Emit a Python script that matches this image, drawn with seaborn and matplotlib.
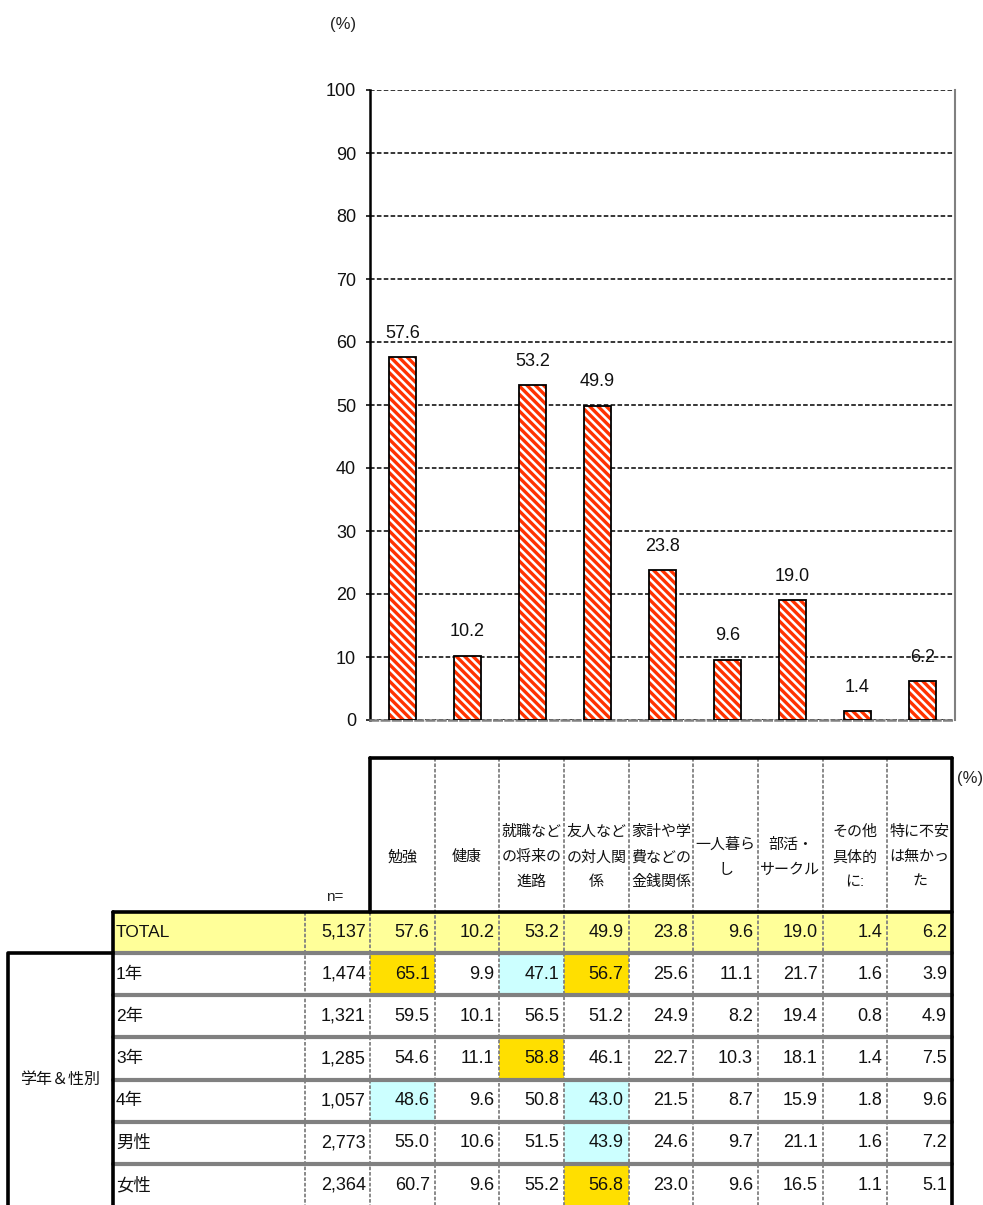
import numpy as np
import pandas as pd
import matplotlib
matplotlib.use('Agg')
import matplotlib.pyplot as plt
from matplotlib import font_manager
import seaborn as sns

# chart data
CATEGORIES = ['勉強', '健康', '就職などの将来の進路', '友人などの対人関係', '家計や学費などの金銭関係',
              '一人暮らし', '部活・サークル', 'その他具体的に:', '特に不安は無かった']
HEADERS = ['勉強', '健康', '就職など\nの将来の\n進路', '友人など\nの対人関\n係', '家計や学\n費などの\n金銭関係',
           '一人暮ら\nし', '部活・\nサークル', 'その他\n具体的\nに:', '特に不安\nは無かっ\nた']
TOTAL = [57.6, 10.2, 53.2, 49.9, 23.8, 9.6, 19.0, 1.4, 6.2]
TOTAL_N = '5,137'

ROW_LABELS = ['1年', '2年', '3年', '4年', '男性', '女性']
ROW_N = ['1,474', '1,321', '1,285', '1,057', '2,773', '2,364']
ROW_VALUES = [
    [65.1, 9.9, 47.1, 56.7, 25.6, 11.1, 21.7, 1.6, 3.9],
    [59.5, 10.1, 56.5, 51.2, 24.9, 8.2, 19.4, 0.8, 4.9],
    [54.6, 11.1, 58.8, 46.1, 22.7, 10.3, 18.1, 1.4, 7.5],
    [48.6, 9.6, 50.8, 43.0, 21.5, 8.7, 15.9, 1.8, 9.6],
    [55.0, 10.6, 51.5, 43.9, 24.6, 9.7, 21.1, 1.6, 7.2],
    [60.7, 9.6, 55.2, 56.8, 23.0, 9.6, 16.5, 1.1, 5.1],
]
# '+' = well above total, '-' = well below total
HIGHLIGHT = [
    ['+', '', '-', '+', '', '', '', '', ''],
    ['', '', '', '', '', '', '', '', ''],
    ['', '', '+', '', '', '', '', '', ''],
    ['-', '', '', '-', '', '', '', '', ''],
    ['', '', '', '-', '', '', '', '', ''],
    ['', '', '', '+', '', '', '', '', ''],
]
GROUP_LABEL = '学年＆性別'

HI_COLOR = '#FFDF00'
LO_COLOR = '#CCFFFF'
TOTAL_COLOR = '#FFFF99'
BAR_RED = '#FF3300'
GRID_GRAY = '#808080'

sns.set_theme(style='white')
names = {f.name for f in font_manager.fontManager.ttflist}
latin = 'Liberation Sans Narrow' if 'Liberation Sans Narrow' in names else 'Liberation Sans'
plt.rcParams['font.family'] = [latin, 'Noto Sans CJK JP', 'DejaVu Sans']
plt.rcParams['hatch.linewidth'] = 2.4

W, H = 983, 1205
fig = plt.figure(figsize=(W / 100, H / 100), dpi=100)

# ---- bar chart ----
ax = fig.add_axes([370 / W, 1 - 720 / H, 585 / W, 630 / H])
df = pd.DataFrame({'cat': CATEGORIES, 'val': TOTAL})
sns.barplot(data=df, x='cat', y='val', order=CATEGORIES, color='white', edgecolor=BAR_RED,
            hatch='\\\\\\\\', linewidth=0, width=0.42, ax=ax, zorder=2)
sns.barplot(data=df, x='cat', y='val', order=CATEGORIES, color='black', fill=False,
            linewidth=1.3, width=0.42, ax=ax, zorder=3)
ax.bar_label(ax.containers[0], labels=[f'{v:.1f}' for v in TOTAL], padding=11,
             fontsize=13, color='#111111')

ax.set_ylim(0, 100)
ax.set_yticks(np.arange(0, 101, 10))
ax.yaxis.grid(True, linestyle=(0, (3, 1.5)), color='black', linewidth=1.1, zorder=0)
ax.set_axisbelow(True)
ax.set_xlabel('')
ax.set_ylabel('')
ax.tick_params(axis='x', bottom=False, labelbottom=False)
ax.tick_params(axis='y', left=True, length=3, width=1.2, pad=7, labelsize=13, colors='#111111')
ax.spines['top'].set_visible(False)
ax.spines['left'].set_color('black')
ax.spines['left'].set_linewidth(1.8)
ax.spines['right'].set_color(GRID_GRAY)
ax.spines['right'].set_linewidth(1.5)
ax.spines['bottom'].set_color(GRID_GRAY)
ax.spines['bottom'].set_linewidth(1.8)
ax.spines['bottom'].set_linestyle((0, (3, 1.5)))

# ---- table (drawn in pixel coordinates) ----
tb = fig.add_axes([0, 0, 1, 1], zorder=-1)
tb.set_xlim(0, W)
tb.set_ylim(H, 0)
tb.axis('off')

x_lab, x_n, x_data, x_end = 113, 305, 370, 952
col_w = (x_end - x_data) / len(CATEGORIES)
y_head, y_total, y_rows, row_h = 758, 912, 953, 42.2
col_x = [x_data + i * col_w for i in range(len(CATEGORIES) + 1)]

# fills
tb.add_patch(plt.Rectangle((x_lab, y_total), x_end - x_lab, y_rows - y_total,
                           facecolor=TOTAL_COLOR, edgecolor='none'))
for r, flags in enumerate(HIGHLIGHT):
    for c, flag in enumerate(flags):
        if flag:
            tb.add_patch(plt.Rectangle((col_x[c], y_rows + r * row_h), col_w, row_h,
                                       facecolor=HI_COLOR if flag == '+' else LO_COLOR,
                                       edgecolor='none'))

# grid lines
for x in col_x[1:-1]:
    tb.plot([x, x], [y_head, H], color=GRID_GRAY, lw=1.3, ls=(0, (2, 1)))
tb.plot([x_n, x_n], [y_total, H], color=GRID_GRAY, lw=1.3, ls=(0, (2, 1)))
tb.plot([x_data, x_data], [y_total, H], color=GRID_GRAY, lw=1.3, ls=(0, (2, 1)))
for r in range(0, len(ROW_LABELS)):
    y = y_rows + r * row_h
    tb.plot([x_lab, x_end], [y, y], color=GRID_GRAY, lw=3)
tb.plot([x_data, x_end], [y_head, y_head], color='black', lw=2.6)
tb.plot([x_data, x_data], [y_head, y_total], color='black', lw=2.6)
tb.plot([x_end, x_end], [y_head, H], color='black', lw=2.6)
tb.plot([x_lab, x_end], [y_total, y_total], color='black', lw=2.6)
tb.plot([x_lab, x_lab], [y_total, H], color='black', lw=2.6)
tb.plot([8, 8, x_lab], [H, y_rows, y_rows], color='black', lw=2.6)

# header text
for c, head in enumerate(HEADERS):
    tb.text(col_x[c] + col_w / 2, 857, head, ha='center', va='center', fontsize=10.8,
            linespacing=2.0, color='#111111')
tb.text(335, 897, 'n=', ha='center', va='center', fontsize=11, color='#222222')
tb.text(970, 778, '(%)', ha='center', va='center', fontsize=12, color='#222222')
fig.text(343 / W, 1 - 25 / H, '(%)', ha='center', va='center', fontsize=12, color='#222222')

# body text
def draw_row(y_top, label, n, values):
    yc = y_top + row_h / 2
    tb.text(x_lab + 3, yc, label, ha='left', va='center', fontsize=12.5, color='#111111')
    tb.text(x_data - 4, yc, n, ha='right', va='center', fontsize=13, color='#111111')
    for c, v in enumerate(values):
        tb.text(col_x[c + 1] - 5, yc, f'{v:.1f}', ha='right', va='center', fontsize=13,
                color='#111111')

draw_row(y_total - 1, 'TOTAL', TOTAL_N, TOTAL)
for r, label in enumerate(ROW_LABELS):
    draw_row(y_rows + r * row_h, label, ROW_N[r], ROW_VALUES[r])

tb.text(60, (y_rows + H) / 2, GROUP_LABEL, ha='center', va='center', fontsize=11.5, color='#111111')

fig.savefig('out.png', dpi=100)
